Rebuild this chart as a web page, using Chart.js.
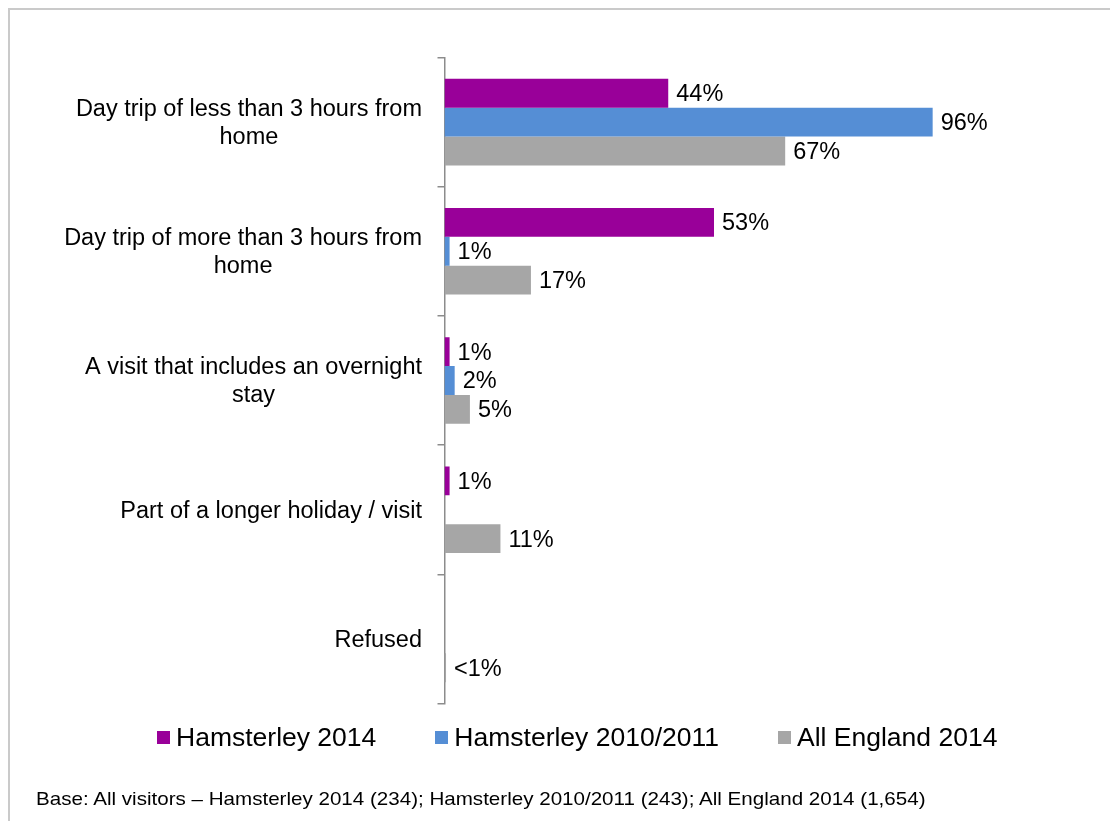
<!DOCTYPE html>
<html>
<head>
<meta charset="utf-8">
<title>Type of visit</title>
<script src="https://cdn.jsdelivr.net/npm/chart.js@4.4.1/dist/chart.umd.min.js"></script>
<style>
    body { margin: 0; background: #fff; font-family: "Liberation Sans", Arial, sans-serif; }
    #wrap { position: relative; width: 1110px; height: 821px; overflow: hidden; }
    #frame { position: absolute; left: 8px; top: 8px; width: 1200px; height: 900px;
             border-left: 2px solid #cacaca; border-top: 2px solid #cacaca; }
    #chart { position: absolute; left: 0; top: 0; }
    #legend { position: absolute; left: 157px; top: 722px; height: 30px; display: flex; align-items: center; }
    .item { display: flex; align-items: center; margin-right: 59px; font-size: 26.5px; color: #000; }
    .swatch { width: 13px; height: 13px; margin-right: 6px; }
    #note { position: absolute; left: 36px; top: 788px; font-size: 19px; color: #000;
            white-space: nowrap; transform: scaleX(1.083); transform-origin: left center; }
</style>
</head>
<body>
<div id="wrap">
    <div id="frame"></div>
    <canvas id="chart" width="1110" height="821"></canvas>
    <div id="legend"></div>
    <div id="note">Base: All visitors – Hamsterley 2014 (234); Hamsterley 2010/2011 (243); All England 2014 (1,654)</div>
</div>
<script>
// Visit type categories (multi-line labels)
const categories = [
    ['Day trip of less than 3 hours from', 'home'],
    ['Day trip of more than 3 hours from', 'home'],
    ['A visit that includes an overnight', 'stay'],
    ['Part of a longer holiday / visit'],
    ['Refused']
];

// Percentages per survey
const hamsterley2014 = [44, 53, 1, 1, null];
const hamsterley2010 = [96, 1, 2, null, null];
const allEngland2014 = [67, 17, 5, 11, 0.3];

const seriesNames = ['Hamsterley 2014', 'Hamsterley 2010/2011', 'All England 2014'];
const seriesColors = ['#990099', '#558ED5', '#A6A6A6'];

const FONT = '"Liberation Sans", Arial, sans-serif';

function pct(v) {
    return v < 1 ? '<1%' : v + '%';
}

// Category labels: block right-aligned to the axis, lines centred inside it
const categoryLabels = {
    id: 'categoryLabels',
    afterDraw(chart) {
        const ctx = chart.ctx;
        const yScale = chart.scales.y;
        const right = yScale.right - 22.5;
        const lineH = 28;
        ctx.save();
        ctx.font = '23.5px ' + FONT;
        ctx.fillStyle = '#000';
        ctx.textAlign = 'center';
        ctx.textBaseline = 'middle';
        categories.forEach((lines, i) => {
            const widest = Math.max(...lines.map(l => ctx.measureText(l).width));
            const cx = right - widest / 2;
            const cy = yScale.getPixelForTick(i) + 1.5;
            const top = cy - (lines.length - 1) * lineH / 2;
            lines.forEach((l, j) => ctx.fillText(l, cx, top + j * lineH));
        });
        ctx.restore();
    }
};

// Value labels at the end of each bar
const valueLabels = {
    id: 'valueLabels',
    afterDatasetsDraw(chart) {
        const ctx = chart.ctx;
        ctx.save();
        ctx.font = '23.5px ' + FONT;
        ctx.fillStyle = '#000';
        ctx.textAlign = 'left';
        ctx.textBaseline = 'middle';
        chart.data.datasets.forEach((ds, di) => {
            chart.getDatasetMeta(di).data.forEach((bar, i) => {
                const v = ds.data[i];
                if (v === null || v === undefined) return;
                ctx.fillText(pct(v), bar.x + 8, bar.y + 1.5);
            });
        });
        ctx.restore();
    }
};

function buildLegend() {
    const legend = document.getElementById('legend');
    seriesNames.forEach((name, i) => {
        const item = document.createElement('div');
        item.className = 'item';
        item.innerHTML = `<span class="swatch" style="background:${seriesColors[i]}"></span><span>${name}</span>`;
        legend.appendChild(item);
    });
}

function createChart() {
    const ctx = document.getElementById('chart').getContext('2d');
    const values = [hamsterley2014, hamsterley2010, allEngland2014];
    new Chart(ctx, {
        type: 'bar',
        data: {
            labels: categories,
            datasets: seriesNames.map((name, i) => ({
                label: name,
                data: values[i],
                backgroundColor: seriesColors[i],
                borderWidth: 0,
                categoryPercentage: 0.67,
                barPercentage: 1
            }))
        },
        options: {
            indexAxis: 'y',
            responsive: false,
            animation: false,
            layout: { padding: { left: 0, right: 157, top: 57.5, bottom: 117.5 } },
            plugins: {
                legend: { display: false },
                tooltip: { enabled: false }
            },
            scales: {
                x: {
                    display: false,
                    min: 0,
                    max: 100
                },
                y: {
                    afterFit(scale) { scale.width = 444.5; },
                    grid: {
                        offset: true,
                        drawOnChartArea: false,
                        drawTicks: true,
                        tickLength: 7,
                        color: '#8c8c8c',
                        lineWidth: 1.5
                    },
                    border: { color: '#8c8c8c', width: 1.5 },
                    ticks: { display: false }
                }
            }
        },
        plugins: [categoryLabels, valueLabels]
    });
}

window.onload = function () {
    buildLegend();
    createChart();
};
</script>
</body>
</html>
